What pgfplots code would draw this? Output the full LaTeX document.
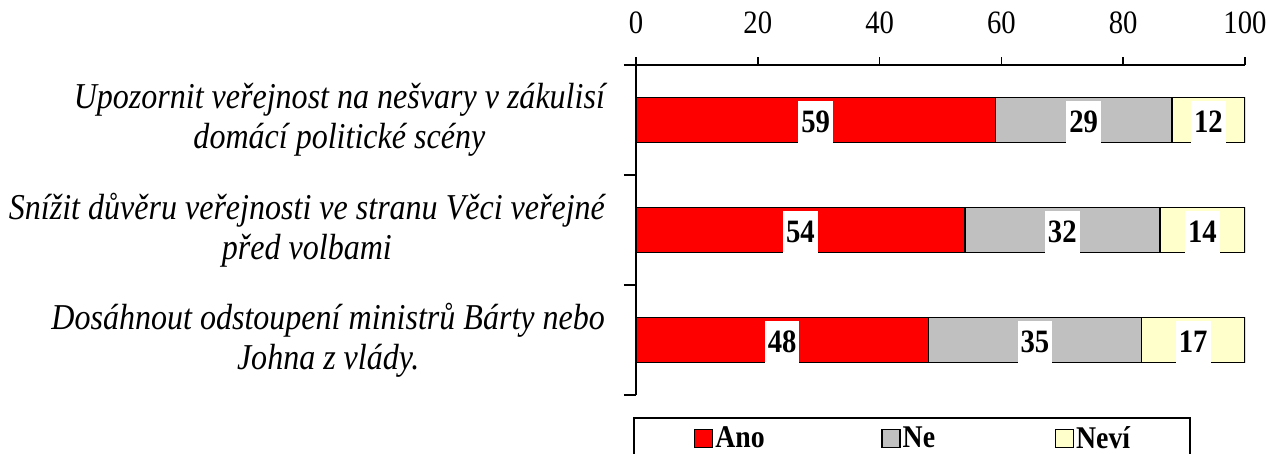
\documentclass[border=0pt]{standalone}
\usepackage{fontspec}
\setmainfont{Liberation Serif}[FakeStretch=0.88]
\usepackage{pgfplots}
\pgfplotsset{compat=1.18}
\definecolor{cano}{HTML}{FF0000}
\definecolor{cne}{HTML}{C0C0C0}
\definecolor{cnevi}{HTML}{FFFFCC}
\pgfplotsset{sq/.style={legend image code/.code={\draw[##1,line width=0.7pt] (0pt,-4.5pt) rectangle (9pt,4.5pt);}}}
\begin{document}
\begin{tikzpicture}
\begin{axis}[
  name=ax,
  width=304.5pt, height=165pt, scale only axis,
  xbar stacked, bar width=22.5pt,
  xmin=0, xmax=100, ymin=0.5, ymax=3.5, y dir=reverse,
  axis x line*=top, axis y line*=left,
  axis line style={-, line width=0.8pt},
  every tick/.style={black, line width=0.8pt},
  tick align=outside,
  major tick length=4pt, minor tick length=6pt,
  xtick={0,20,...,100},
  ytick={1,2,3},
  major y tick style={draw=none},
  minor ytick={0.5,1.5,2.5,3.5},
  yticklabels={{Upozornit veřejnost na nešvary v zákulisí\\domácí politické scény},
               {Snížit důvěru veřejnosti ve stranu Věci veřejné\\před volbami},
               {Dosáhnout odstoupení ministrů Bárty nebo\\Johna z vlády.}},
  yticklabel style={align=center, font=\itshape\fontsize{18.2}{20}\selectfont, xshift=-8pt},
  xticklabel style={font=\fontsize{16.3}{18}\selectfont, yshift=8pt},
  /pgf/number format/assume math mode=true,
  point meta=explicit symbolic,
  nodes near coords,
  every node near coord/.style={anchor=center, fill=white, font=\bfseries\fontsize{16.3}{18}\selectfont,
    inner xsep=1.5pt, inner ysep=0pt, minimum height=21pt, yshift=-0.8pt},
  legend columns=3,
  legend style={at={(-0.005,-0.067)}, anchor=north west, draw=black, line width=1pt,
    font=\bfseries\fontsize{15.8}{17}\selectfont, inner xsep=30pt, inner ysep=2pt,
    /tikz/every odd column/.append style={column sep=0pt},
    nodes={inner xsep=1pt}},
]
\addplot[fill=cano, draw=black, line width=0.8pt, sq] coordinates {(59,1) [59] (54,2) [54] (48,3) [48]};
\addplot[fill=cne, draw=black, line width=0.8pt, sq] coordinates {(29,1) [29] (32,2) [32] (35,3) [35]};
\addplot[fill=cnevi, draw=black, line width=0.8pt, sq] coordinates {(12,1) [12] (14,2) [14] (17,3) [17]};
\addlegendentry{\makebox[82pt][l]{Ano}}
\addlegendentry{\makebox[75pt][l]{Ne}}
\addlegendentry{\makebox[26pt][l]{Neví}}
\end{axis}
\pgfresetboundingbox
\path ([shift={(-318pt,-29.5pt)}]ax.south west) rectangle ([shift={(316pt,197.5pt)}]ax.south west);
\end{tikzpicture}
\end{document}
